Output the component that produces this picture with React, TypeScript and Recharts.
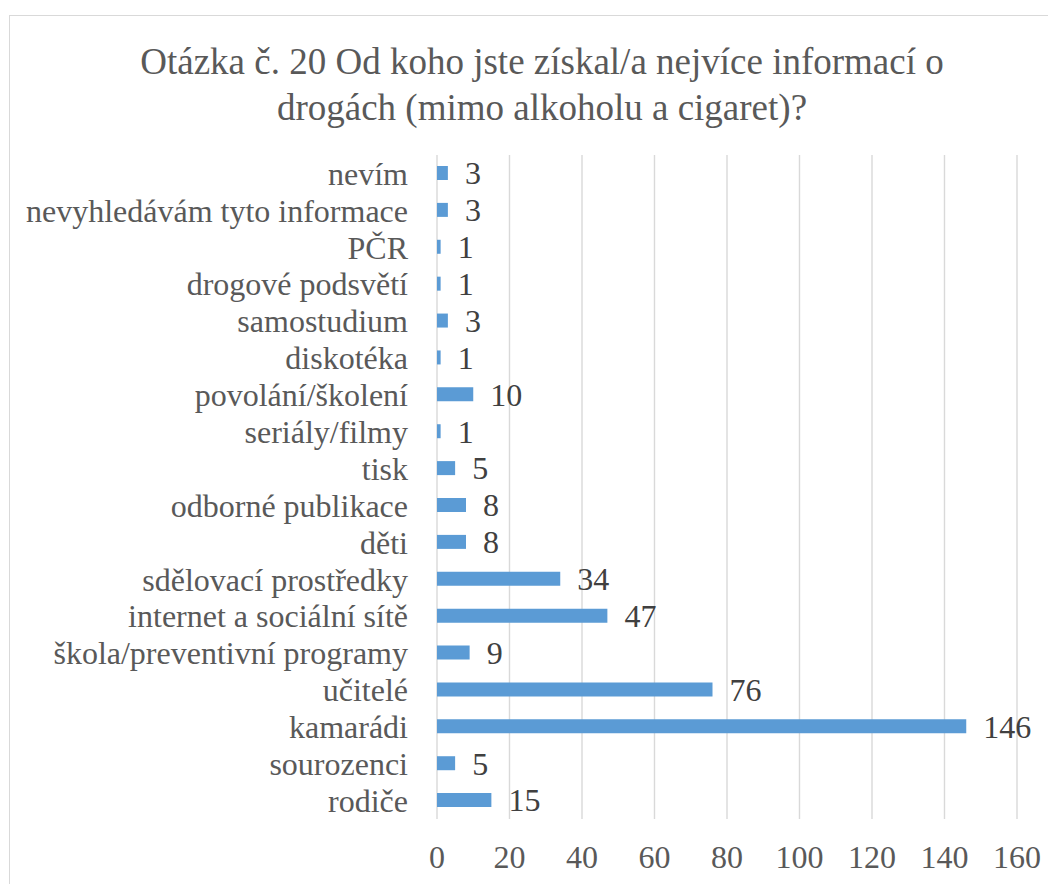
import { BarChart, Bar, XAxis, YAxis, CartesianGrid, LabelList } from 'recharts';

const FONT = "'Liberation Serif', 'Times New Roman', serif";

const CATEGORIES = [
  'nevím', 'nevyhledávám tyto informace', 'PČR', 'drogové podsvětí', 'samostudium',
  'diskotéka', 'povolání/školení', 'seriály/filmy', 'tisk', 'odborné publikace',
  'děti', 'sdělovací prostředky', 'internet a sociální sítě', 'škola/preventivní programy',
  'učitelé', 'kamarádi', 'sourozenci', 'rodiče',
];
const COUNTS = [3, 3, 1, 1, 3, 1, 10, 1, 5, 8, 8, 34, 47, 9, 76, 146, 5, 15];
const X_TICKS = [0, 20, 40, 60, 80, 100, 120, 140, 160];

const TITLE_1 = 'Otázka č. 20 Od koho jste získal/a nejvíce informací o';
const TITLE_2 = 'drogách (mimo alkoholu a cigaret)?';

const data = CATEGORIES.map((name, i) => ({ name, value: COUNTS[i] }));

export default function App() {
  return (
    <div style={{ position: 'relative', width: 1048, height: 876, overflow: 'hidden', fontFamily: FONT }}>
      <div
        style={{
          position: 'absolute', left: 1, top: 7, right: 0, bottom: 0,
          borderLeft: '1.5px solid #d9d9d9', borderTop: '1.5px solid #d9d9d9',
        }}
      />
      <div
        style={{
          position: 'absolute', left: 0, width: 1068, top: 31,
          textAlign: 'center', fontSize: 37, lineHeight: '46px', color: '#595959',
        }}
      >
        <div>{TITLE_1}</div>
        <div>{TITLE_2}</div>
      </div>
      <div style={{ position: 'absolute', left: 0, top: 0 }}>
        <BarChart
          width={1048}
          height={876}
          data={data}
          layout="vertical"
          margin={{ top: 147, right: 39, bottom: 0, left: 0 }}
          barCategoryGap={0}
        >
          <CartesianGrid horizontal={false} stroke="#d9d9d9" strokeWidth={1.4} />
          <XAxis
            type="number"
            domain={[0, 160]}
            ticks={X_TICKS}
            interval={0}
            height={65}
            axisLine={false}
            tickLine={false}
            tickSize={0}
            tickMargin={26}
            tick={{ fill: '#595959', fontSize: 32, fontFamily: FONT }}
          />
          <YAxis
            type="category"
            dataKey="name"
            width={429}
            interval={0}
            axisLine={false}
            tickLine={false}
            tickSize={0}
            tickMargin={29}
            tick={{ fill: '#595959', fontSize: 32, fontFamily: FONT }}
          />
          <Bar dataKey="value" fill="#5b9bd5" barSize={14} isAnimationActive={false}>
            <LabelList
              dataKey="value"
              position="right"
              offset={17}
              fill="#404040"
              fontSize={32}
              fontFamily={FONT}
            />
          </Bar>
        </BarChart>
      </div>
    </div>
  );
}
